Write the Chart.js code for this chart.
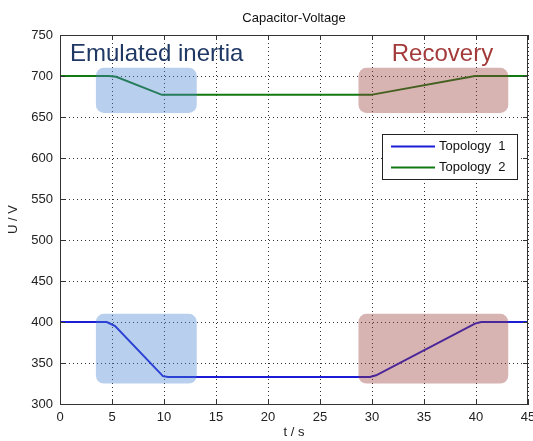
<!DOCTYPE html>
<html>
<head>
<meta charset="utf-8">
<title>Capacitor-Voltage</title>
<script src="https://cdn.jsdelivr.net/npm/chart.js@4.4.1/dist/chart.umd.min.js"></script>
<style>
  html, body { margin: 0; padding: 0; background: #fff; }
  #wrap { width: 533px; height: 441px; }
</style>
</head>
<body>
<div id="wrap"><canvas id="chVoltage"></canvas></div>
<script>
// values
const timeTopo1 = [0, 4.5, 5.3, 9.9, 10.4, 29.8, 30.4, 39.9, 40.5, 45];
const voltTopo1 = [400, 400, 395, 334, 333, 333, 335, 398, 400, 400];
const timeTopo2 = [0, 4.7, 5.4, 9.8, 29.9, 39.9, 45];
const voltTopo2 = [700, 700, 699, 677, 677, 700, 700];
const seriesNames = ['Topology  1', 'Topology  2'];
const xTicks = [0, 5, 10, 15, 20, 25, 30, 35, 40, 45];
const yTicks = [300, 350, 400, 450, 500, 550, 600, 650, 700, 750];

// highlighted phases: time span, and the two voltage bands they cover
const phaseNames = ['Emulated inertia', 'Recovery'];
const phaseStart = [3.45, 28.7];
const phaseEnd = [13.15, 43.1];
const phaseBands = [[655, 710], [325, 410]];
const phaseTextT = [0.96, 31.9];
const phaseTextU = 718;

const FONT = "'Liberation Sans', Arial, sans-serif";
const phaseFill = ['rgba(70,130,210,0.38)', 'rgba(149,55,53,0.38)'];
const phaseInk = ['#1f3864', '#a33b3b'];

function pairs(ts, vs) {
    return ts.map((t, i) => ({ x: t, y: vs[i] }));
}

/* MATLAB-ish frame, inward ticks, boxes, title and legend */
const matlabFrame = {
    id: 'matlabFrame',
    afterDatasetsDraw(chart) {
        const { ctx, scales: { x, y } } = chart;
        ctx.save();
        phaseNames.forEach((name, i) => {
            const l = x.getPixelForValue(phaseStart[i]);
            const r = x.getPixelForValue(phaseEnd[i]);
            ctx.fillStyle = phaseFill[i];
            phaseBands.forEach(b => {
                const top = y.getPixelForValue(b[1]);
                const bot = y.getPixelForValue(b[0]);
                ctx.beginPath();
                ctx.roundRect(l, top, r - l, bot - top, 8);
                ctx.fill();
            });
        });
        ctx.restore();
    },
    afterDraw(chart) {
        const { ctx, chartArea: a, scales: { x, y } } = chart;
        ctx.save();
        // box
        ctx.strokeStyle = '#333';
        ctx.lineWidth = 1;
        ctx.strokeRect(Math.round(a.left) + 0.5, Math.round(a.top) + 0.5,
            Math.round(a.right - a.left) - 1, Math.round(a.bottom - a.top));
        // inward ticks on all four sides
        ctx.beginPath();
        x.ticks.forEach(t => {
            const px = Math.round(x.getPixelForValue(t.value)) + 0.5;
            ctx.moveTo(px, a.bottom); ctx.lineTo(px, a.bottom - 5);
            ctx.moveTo(px, a.top); ctx.lineTo(px, a.top + 5);
        });
        y.ticks.forEach(t => {
            const py = Math.round(y.getPixelForValue(t.value)) + 0.5;
            ctx.moveTo(a.left, py); ctx.lineTo(a.left + 5, py);
            ctx.moveTo(a.right, py); ctx.lineTo(a.right - 5, py);
        });
        ctx.stroke();

        // title
        ctx.fillStyle = '#111';
        ctx.font = '13px ' + FONT;
        ctx.textAlign = 'center';
        ctx.textBaseline = 'middle';
        ctx.fillText('Capacitor-Voltage', (a.left + a.right) / 2, 18);

        // phase labels
        ctx.font = '24px ' + FONT;
        ctx.textAlign = 'left';
        ctx.textBaseline = 'alphabetic';
        phaseNames.forEach((name, i) => {
            ctx.fillStyle = phaseInk[i];
            ctx.fillText(name, x.getPixelForValue(phaseTextT[i]), y.getPixelForValue(phaseTextU));
        });

        // legend
        const lx = a.right - 146, ly = a.top + 99, lw = 135, lh = 45;
        ctx.fillStyle = '#fff';
        ctx.fillRect(lx, ly, lw, lh);
        ctx.strokeStyle = '#222';
        ctx.lineWidth = 1;
        ctx.strokeRect(lx + 0.5, ly + 0.5, lw, lh);
        ctx.font = '13px ' + FONT;
        ctx.textBaseline = 'middle';
        chart.data.datasets.forEach((ds, i) => {
            const ry = ly + 12.5 + i * 21;
            ctx.strokeStyle = ds.borderColor;
            ctx.lineWidth = 2;
            ctx.beginPath();
            ctx.moveTo(lx + 9, ry); ctx.lineTo(lx + 53, ry);
            ctx.stroke();
            ctx.fillStyle = '#111';
            ctx.fillText(ds.label, lx + 57, ry);
        });
        ctx.restore();
    }
};

const tickFont = { family: FONT, size: 13 };

new Chart(document.getElementById('chVoltage'), {
    type: 'line',
    data: {
        datasets: [{
            label: seriesNames[0],
            data: pairs(timeTopo1, voltTopo1),
            borderColor: '#1c1cd6',
            borderWidth: 2,
            pointRadius: 0,
            tension: 0
        }, {
            label: seriesNames[1],
            data: pairs(timeTopo2, voltTopo2),
            borderColor: '#137a13',
            borderWidth: 2,
            pointRadius: 0,
            tension: 0
        }]
    },
    options: {
        responsive: true,
        maintainAspectRatio: false,
        animation: false,
        layout: { padding: { left: 0, right: 5, top: 35, bottom: 0 } },
        plugins: {
            legend: { display: false },
            title: { display: false },
            tooltip: { enabled: false }
        },
        scales: {
            x: {
                type: 'linear',
                min: 0,
                max: 45,
                afterBuildTicks: s => { s.ticks = xTicks.map(v => ({ value: v })); },
                afterFit: s => { s.height = 37; s.paddingLeft = 0; s.paddingRight = 0; },
                grid: { color: '#333', lineWidth: 1, drawTicks: false },
                border: { display: true, color: '#333', dash: [1, 3] },
                ticks: { font: tickFont, color: '#222', padding: 6, maxRotation: 0, autoSkip: false },
                title: { display: true, text: 't / s', font: tickFont, color: '#222', padding: { top: 0, bottom: 1 } }
            },
            y: {
                min: 300,
                max: 750,
                afterBuildTicks: s => { s.ticks = yTicks.map(v => ({ value: v })); },
                afterFit: s => { s.width = 60; s.paddingTop = 0; s.paddingBottom = 0; },
                grid: { color: '#333', lineWidth: 1, drawTicks: false },
                border: { display: true, color: '#333', dash: [1, 3] },
                ticks: { font: tickFont, color: '#222', padding: 7, autoSkip: false },
                title: { display: true, text: 'U / V', font: tickFont, color: '#222', padding: { top: 6, bottom: 0 } }
            }
        }
    },
    plugins: [matlabFrame]
});
</script>
</body>
</html>
